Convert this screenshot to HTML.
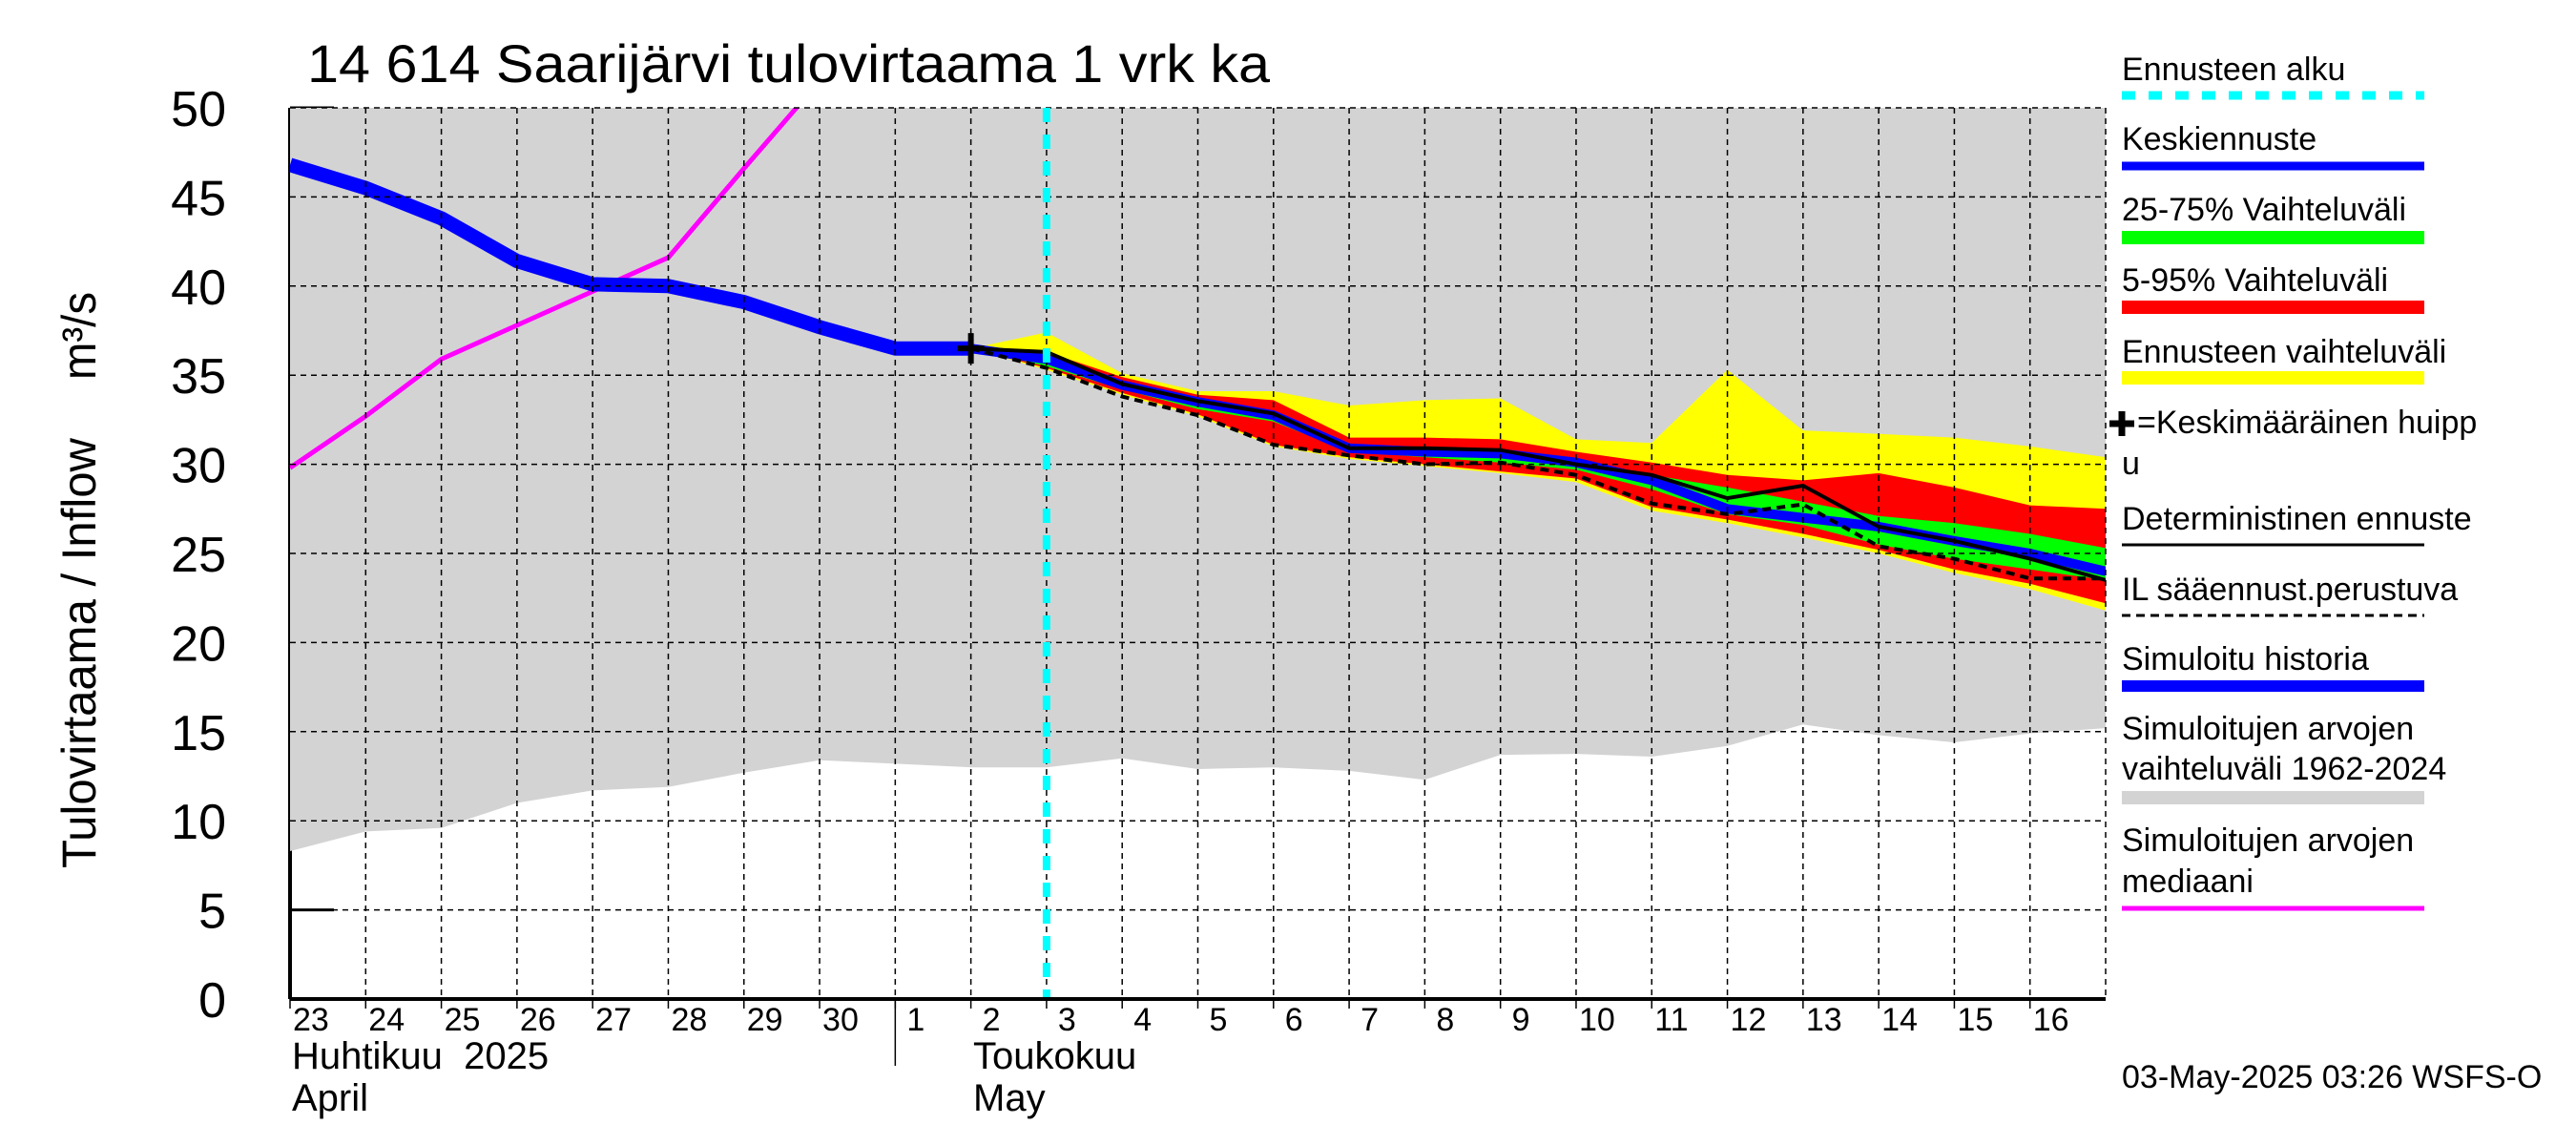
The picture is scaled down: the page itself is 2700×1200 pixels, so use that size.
<!DOCTYPE html>
<html><head><meta charset="utf-8"><style>
html,body{margin:0;padding:0;background:#fff;}
svg{display:block;font-family:"Liberation Sans",sans-serif;}
text{white-space:pre;}
</style></head><body>
<svg id="chart" width="2700" height="1200" viewBox="0 0 2700 1200" xmlns="http://www.w3.org/2000/svg">
<text x="322" y="86" font-size="56" textLength="1009" lengthAdjust="spacingAndGlyphs">14 614 Saarijärvi tulovirtaama 1 vrk ka</text>
<text transform="translate(100,910) rotate(-90)" font-size="50" textLength="451" lengthAdjust="spacingAndGlyphs">Tulovirtaama / Inflow</text>
<text transform="translate(100,398) rotate(-90)" font-size="50" textLength="92" lengthAdjust="spacingAndGlyphs">m³/s</text>
<g id="plot"></g>
<g id="legend" font-size="34">
<text x="2224" y="84">Ennusteen alku</text>
<line x1="2224" y1="100" x2="2541" y2="100" stroke="#00ffff" stroke-width="9" stroke-dasharray="14,14"/>
<text x="2224" y="157">Keskiennuste</text>
<line x1="2224" y1="174" x2="2541" y2="174" stroke="#0000ff" stroke-width="9"/>
<text x="2224" y="231">25-75% Vaihteluväli</text>
<line x1="2224" y1="249" x2="2541" y2="249" stroke="#00ff00" stroke-width="14"/>
<text x="2224" y="305">5-95% Vaihteluväli</text>
<line x1="2224" y1="322" x2="2541" y2="322" stroke="#ff0000" stroke-width="14"/>
<text x="2224" y="380">Ennusteen vaihteluväli</text>
<line x1="2224" y1="396" x2="2541" y2="396" stroke="#ffff00" stroke-width="14"/>
<path d="M2211,444 h26 M2224,431 v26" stroke="#000" stroke-width="7"/>
<text x="2240" y="454">=Keskimääräinen huipp</text>
<text x="2224" y="497">u</text>
<text x="2224" y="555">Deterministinen ennuste</text>
<line x1="2224" y1="571" x2="2541" y2="571" stroke="#000" stroke-width="3"/>
<text x="2224" y="629">IL sääennust.perustuva</text>
<line x1="2224" y1="645" x2="2541" y2="645" stroke="#000" stroke-width="3" stroke-dasharray="9,6"/>
<text x="2224" y="702">Simuloitu historia</text>
<line x1="2224" y1="719" x2="2541" y2="719" stroke="#0000ff" stroke-width="12"/>
<text x="2224" y="775">Simuloitujen arvojen</text>
<text x="2224" y="817">vaihteluväli 1962-2024</text>
<line x1="2224" y1="836" x2="2541" y2="836" stroke="#d3d3d3" stroke-width="14"/>
<text x="2224" y="892">Simuloitujen arvojen</text>
<text x="2224" y="935">mediaani</text>
<line x1="2224" y1="952" x2="2541" y2="952" stroke="#ff00ff" stroke-width="5"/>
</g>
<text x="2224" y="1140" font-size="34">03-May-2025 03:26 WSFS-O</text>
</svg>
<script>
// Day indices: 0 = 23 Apr ... 24 = 17 May
const dayLabels = ["23","24","25","26","27","28","29","30","1","2","3","4","5","6","7","8","9","10","11","12","13","14","15","16"];
const yTicks = [0,5,10,15,20,25,30,35,40,45,50];
const simMin = [8.3,9.4,9.6,11.0,11.7,11.9,12.7,13.4,13.2,13.0,13.0,13.5,12.9,13.0,12.8,12.3,13.7,13.75,13.6,14.2,15.4,14.8,14.4,14.9,15.2];
const median = [29.8,32.7,35.9,37.8,39.7,41.6,46.6,51.5];
const history = [46.8,45.5,43.8,41.4,40.1,40.0,39.1,37.7,36.5,36.5];
// forecast from day index 9 (2 May) to 24
const fcStart = 9;
const fcMax = [36.5,37.4,35.1,34.1,34.1,33.3,33.6,33.7,31.4,31.2,35.3,31.9,31.7,31.5,31.0,30.4];
const fc95  = [36.5,36.3,34.9,33.9,33.6,31.5,31.5,31.4,30.7,30.1,29.4,29.1,29.5,28.7,27.7,27.5];
const fc75  = [36.5,36.2,34.6,33.6,32.9,31.1,30.9,30.75,30.3,29.4,28.7,27.9,27.1,26.7,26.1,25.3];
const fcMean= [36.5,35.9,34.45,33.5,32.75,30.9,30.7,30.6,30.1,29.1,27.5,27.0,26.5,25.7,25.0,24.0];
const fc25  = [36.5,35.5,34.2,33.1,32.4,30.7,30.4,30.1,29.7,28.6,27.2,26.6,25.5,24.7,24.1,23.5];
const fc5   = [36.5,35.4,34.0,32.8,31.1,30.4,30.0,29.6,29.2,27.6,26.9,26.1,25.2,24.1,23.3,22.2];
const fcMin = [36.5,35.3,33.9,32.7,31.0,30.3,29.9,29.5,29.0,27.4,26.7,25.9,25.0,23.9,23.0,21.8];
const determ= [36.5,36.3,34.5,33.55,32.85,30.9,30.9,30.8,30.0,29.4,28.1,28.8,26.5,25.7,24.7,23.5];
const ilFc  = [36.5,35.4,33.8,32.75,31.1,30.5,30.0,30.1,29.4,27.8,27.2,27.75,25.4,24.7,23.6,23.6];
const peakDay = 9, peakVal = 36.5, forecastStartDay = 10;

const X0=304, X1=2207, Y0=1047, Y1=113, NDAYS=24, VMAX=50;
const xs = d => X0 + (X1-X0)*d/NDAYS;
const ys = v => Y0 - (Y0-Y1)*v/VMAX;
const NS="http://www.w3.org/2000/svg";
const plot=document.getElementById('plot');
function mk(tag,attrs,parent){const e=document.createElementNS(NS,tag);for(const k in attrs)e.setAttribute(k,attrs[k]);(parent||plot).appendChild(e);return e;}
function pts(arr,off){return arr.map((v,i)=>xs(i+off).toFixed(1)+','+ys(v).toFixed(1));}
function band(top,bot,off){return pts(top,off).concat(pts(bot,off).reverse()).join(' ');}

const defs=mk('defs',{});
const cp=mk('clipPath',{id:'clip'},defs);
mk('rect',{x:X0,y:Y1,width:X1-X0,height:Y0-Y1},cp);

yTicks.forEach(v=>{
  const t=mk('line',{x1:X0,x2:X0+46,y1:ys(v),y2:ys(v),stroke:'#000','stroke-width':3});
  
  
  const l=mk('text',{x:237,y:ys(v)+19,'text-anchor':'end','font-size':52});
  l.textContent=v;
  
  
});
mk('line',{x1:X0,x2:X0,y1:Y1,y2:Y0,stroke:'#000','stroke-width':4});

const g=mk('g',{'clip-path':'url(#clip)'});
const top50=simMin.map(()=>VMAX);
const gb=mk('polygon',{points:band(top50,simMin,0),fill:'#d3d3d3'},g);


const b1=mk('polygon',{points:band(fcMax,fcMin,fcStart),fill:'#ffff00'},g);


const b2=mk('polygon',{points:band(fc95,fc5,fcStart),fill:'#ff0000'},g);


const b3=mk('polygon',{points:band(fc75,fc25,fcStart),fill:'#00ff00'},g);



for(let d=1;d<NDAYS;d++){
  const gl=mk('line',{x1:xs(d),x2:xs(d),y1:Y1,y2:Y0,stroke:'#000','stroke-width':1.5,'stroke-dasharray':'6,5'});
  
  
}
yTicks.forEach(v=>{ if(v===0) return;
  const gl=mk('line',{x1:X0,x2:X1,y1:ys(v),y2:ys(v),stroke:'#000','stroke-width':1.5,'stroke-dasharray':'6,5'});
  
  
});
mk('line',{x1:X1,x2:X1,y1:Y1,y2:Y0,stroke:'#000','stroke-width':1.5,'stroke-dasharray':'6,5'});

const med=mk('polyline',{points:pts(median,0).join(' '),fill:'none',stroke:'#ff00ff','stroke-width':5},g);


const hist=mk('polyline',{points:pts(history,0).join(' '),fill:'none',stroke:'#0000ff','stroke-width':15,'stroke-linejoin':'round'},g);


const mean=mk('polyline',{points:pts(fcMean,fcStart).join(' '),fill:'none',stroke:'#0000ff','stroke-width':10},g);


const il=mk('polyline',{points:pts(ilFc,fcStart).join(' '),fill:'none',stroke:'#000','stroke-width':4,'stroke-dasharray':'9,6'},g);


const det=mk('polyline',{points:pts(determ,fcStart).join(' '),fill:'none',stroke:'#000','stroke-width':4},g);


const pk=mk('path',{d:`M${xs(peakDay)-14},${ys(peakVal)} h28 M${xs(peakDay)},${ys(peakVal)-16} v32`,stroke:'#000','stroke-width':6});


const fs=mk('line',{x1:xs(forecastStartDay),x2:xs(forecastStartDay),y1:Y1,y2:Y0,stroke:'#00ffff','stroke-width':8,'stroke-dasharray':'15,13'});



mk('line',{x1:X0,x2:X1,y1:Y0,y2:Y0,stroke:'#000','stroke-width':4});
dayLabels.forEach((lab,i)=>{
  const tk=mk('line',{x1:xs(i),x2:xs(i),y1:Y0,y2:Y0+10,stroke:'#000','stroke-width':1.5});
  
  
  const t=mk('text',{x:xs(i)+(lab.length===1?12:3),y:1080,'font-size':34});
  t.textContent=lab;
  
  
});
const sep=mk('line',{x1:xs(8),x2:xs(8),y1:Y0,y2:1117,stroke:'#000','stroke-width':1.5});


[["Huhtikuu  2025",306,1120,'month-label-april-fi'],["April",306,1164,'month-label-april-en'],["Toukokuu",1020,1120,'month-label-may-fi'],["May",1020,1164,'month-label-may-en']].forEach(a=>{
  const t=mk('text',{x:a[1],y:a[2],'font-size':40});
  t.textContent=a[0];
  
  
});
</script>
</body></html>
